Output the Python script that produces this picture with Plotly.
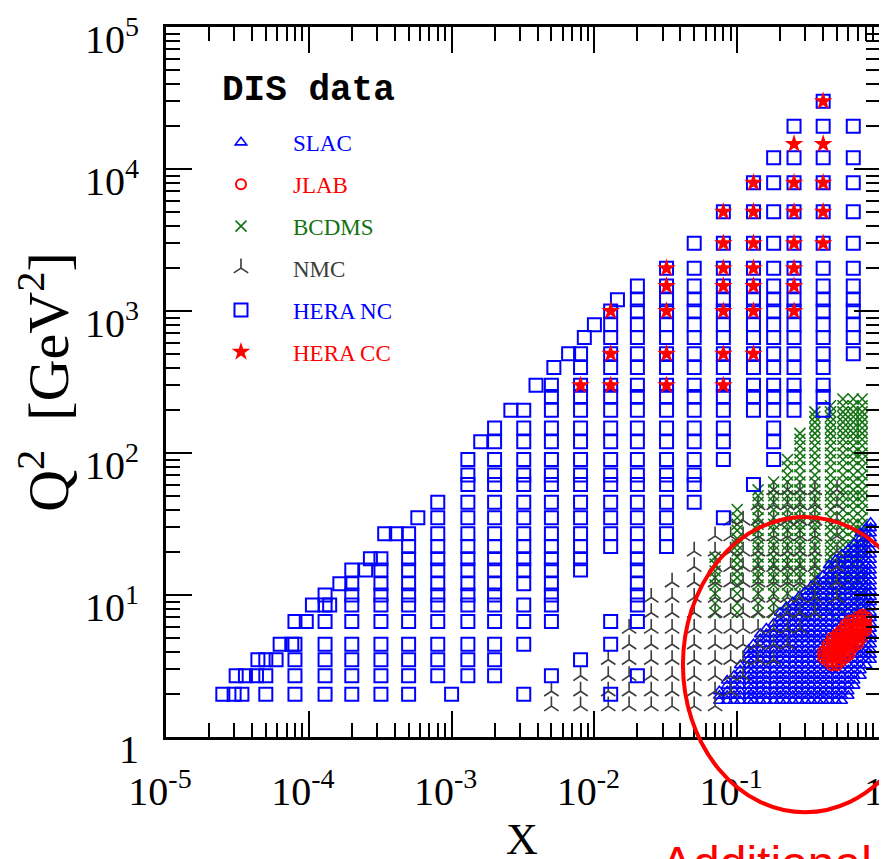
import plotly.graph_objects as go

# ---------------- data ----------------
# HERA neutral-current Q2 bins
Q2_BINS = [2, 2.7, 3.5, 4.5, 6.5, 8.5, 10, 12, 15, 18, 22, 27, 35, 45, 60, 70, 90,
           120, 150, 200, 250, 300, 400, 500, 650, 800, 1000, 1200, 1500, 2000,
           3000, 5000, 8000, 12000, 20000, 30000]


def span(lo, hi, skip=()):
    return [q for q in Q2_BINS if lo <= q <= hi and q not in skip]


hera_nc_x = [5e-5, 8e-5, 1.3e-4, 2e-4, 3.2e-4, 5e-4, 8e-4, 1e-3, 1.3e-3, 2e-3,
             3.2e-3, 5e-3, 8e-3, 1.3e-2, 2e-2, 3.2e-2, 5e-2, 8e-2, 0.13, 0.18,
             0.25, 0.40, 0.65]
hera_nc_q2 = [
    [2, 2.7, 3.5],
    span(2, 6.5),
    span(2, 10),
    span(2, 15),
    span(2, 18),
    span(2, 27),
    span(2.7, 45),
    [2],
    span(2.7, 90),
    span(2.7, 150),
    [2] + span(4.5, 200, skip=(10,)),
    [2.7] + span(6.5, 300),
    [3.5] + span(15, 500),
    [2, 4.5, 6.5] + span(22, 1000),
    [2.7] + span(6.5, 1500),
    span(22, 2000),
    span(45, 3000),
    [35] + span(90, 5000),
    [60] + span(200, 8000),
    span(90, 12000),
    span(200, 20000),
    span(200, 30000),
    span(500, 20000),
]
# points along the kinematic edge
hera_nc_edge_x = [2.5e-5, 3.0e-5, 3.4e-5, 3.1e-5, 3.6e-5, 4.3e-5, 4.4e-5, 5.9e-5,
                  6.3e-5, 7.6e-5, 9.6e-5, 1.06e-4, 1.4e-4, 1.65e-4, 2.5e-4, 2.7e-4,
                  3.4e-4, 4.1e-4, 5.8e-4, 1.6e-3, 2.6e-3, 3.9e-3, 5.2e-3, 6.6e-3,
                  8.5e-3, 1.0e-2, 1.45e-2]
hera_nc_edge_q2 = [2, 2, 2, 2.7, 2.7, 2.7, 3.5, 3.5, 4.5, 4.5, 6.5, 8.5, 8.5, 12,
                   15, 18, 27, 27, 35, 120, 200, 300, 400, 500, 650, 800, 1200]

hera_cc_x = [8e-3, 1.3e-2, 3.2e-2, 8e-2, 0.13, 0.25, 0.40]
hera_cc_q2 = [
    [300],
    [300, 500, 1000],
    [300, 500, 1000, 1500, 2000],
    [300, 500, 1000, 1500, 2000, 3000, 5000],
    [500, 1000, 1500, 2000, 3000, 5000, 8000],
    [1000, 1500, 2000, 3000, 5000, 8000, 15000],
    [3000, 5000, 8000, 15000, 30000],
]

# BCDMS
bcdms_q2_levels = [7.5, 8.75, 10.25, 11.75, 13.25, 14.75, 16.5, 18.5, 20.5, 22.5,
                   25, 28.5, 31.5, 35, 40, 45, 50, 55, 62.5, 70, 80, 90, 100,
                   112.5, 125, 137.5, 150, 165, 180, 195, 215, 240]
bcdms_x = [0.07, 0.10, 0.14, 0.18, 0.225, 0.275, 0.35, 0.45, 0.55, 0.65, 0.75]
bcdms_q2_max = [20, 40, 58, 68, 90, 140, 200, 230, 240, 240, 240]

# NMC
nmc_q2_levels = [1.65, 2.1, 2.7, 3.5, 4.5, 5.8, 7.5, 9.6, 12.3, 15.8, 20.3, 26,
                 33.5, 43, 55]
nmc_x = [0.005, 0.008, 0.0125, 0.0175, 0.025, 0.035, 0.05, 0.07, 0.09, 0.11,
         0.14, 0.18, 0.225, 0.275, 0.35, 0.5]
nmc_q2_min = [1.6, 1.6, 1.6, 1.6, 1.6, 1.6, 1.6, 1.6, 2.0, 2.5, 3.0, 3.5, 4.5,
              5.0, 6.0, 8.0]
nmc_q2_max = [2.4, 2.7, 4.1, 6.0, 11, 14.5, 21, 27.5, 35, 42, 50, 60, 65, 65, 65, 65]

# SLAC
slac_q2_levels = [1.8, 1.95, 2.1, 2.3, 2.5, 2.7, 2.95, 3.2, 3.5, 3.8, 4.1, 4.5,
                  4.9, 5.3, 5.8, 6.3, 6.9, 7.5, 8.2, 8.9, 9.7, 10.6, 11.5, 12.5,
                  13.7, 14.9, 16.2, 17.7, 19.3, 21, 22.9, 25, 27.2, 29.6, 32.3, 35]
slac_x = [0.075, 0.085, 0.095, 0.105, 0.12, 0.13, 0.145, 0.16, 0.18, 0.2, 0.22,
          0.245, 0.27, 0.3, 0.33, 0.365, 0.4, 0.44, 0.49, 0.54, 0.6, 0.66, 0.73,
          0.8, 0.86]
slac_q2_min = [1.8] * 20 + [1.9, 2.2, 2.6, 3.0, 3.5]
slac_q2_max = [2.15, 2.5, 2.9, 3.4, 4.2, 4.8, 5.6, 6.1, 6.8, 7.6, 8.5, 9.2, 9.7,
               10.9, 12, 13.2, 14.8, 16.5, 18.5, 20.5, 21.5, 24, 28, 32, 34]

# JLAB
jlab_q2_levels = [3.2, 3.4, 3.6, 3.8, 4.0, 4.25, 4.5, 4.75, 5.0, 5.3, 5.6, 5.9,
                  6.2, 6.6, 7.0, 7.3]
jlab_x = [0.4, 0.43, 0.46, 0.5, 0.53, 0.57, 0.61, 0.65, 0.7, 0.75, 0.8]
jlab_q2_min = [3.5, 3.3, 3.2, 3.2, 3.4, 3.6, 3.8, 4.1, 4.5, 4.9, 5.6]
jlab_q2_max = [4.0, 4.6, 5.1, 5.4, 5.8, 6.2, 6.6, 6.9, 7.2, 7.3, 7.2]

x_tick_vals = [1e-5, 1e-4, 1e-3, 1e-2, 1e-1, 1]
x_tick_text = ["10<sup>-5</sup>", "10<sup>-4</sup>", "10<sup>-3</sup>",
               "10<sup>-2</sup>", "10<sup>-1</sup>", "1"]
y_tick_vals = [1, 10, 100, 1e3, 1e4, 1e5]
y_tick_text = ["1", "10<sup>1</sup>", "10<sup>2</sup>", "10<sup>3</sup>",
               "10<sup>4</sup>", "10<sup>5</sup>"]
minor_vals = [k * 10.0 ** e for e in range(-5, 5) for k in range(2, 10)]


# ---------------- build point lists ----------------
def columns(xs, q2s):
    px, py = [], []
    for x, ql in zip(xs, q2s):
        for q in ql:
            px.append(x)
            py.append(q)
    return px, py


def banded(xs, levels, lo, hi):
    return columns(xs, [[q for q in levels if a <= q <= b] for a, b in zip(lo, hi)])


nc_x, nc_y = columns(hera_nc_x, hera_nc_q2)
nc_x += hera_nc_edge_x
nc_y += hera_nc_edge_q2
cc_x, cc_y = columns(hera_cc_x, hera_cc_q2)
bc_x, bc_y = banded(bcdms_x, bcdms_q2_levels, [7.5] * len(bcdms_x), bcdms_q2_max)
nm_x, nm_y = banded(nmc_x, nmc_q2_levels, nmc_q2_min, nmc_q2_max)
sl_x, sl_y = banded(slac_x, slac_q2_levels, slac_q2_min, slac_q2_max)
jl_x, jl_y = banded(jlab_x, jlab_q2_levels, jlab_q2_min, jlab_q2_max)

BLUE = "#0000ff"
RED = "#ff0000"
GREEN = "#137313"
GRAY = "#3c3c3c"

fig = go.Figure()


def add(name, xs, ys, symbol, color, size, lw, rank):
    fig.add_trace(go.Scatter(
        x=xs, y=ys, mode="markers", legendrank=rank, legendgroup=name,
        name='<span style="color:%s">%s</span>' % (color, name),
        marker=dict(symbol=symbol, size=size, color=color,
                    line=dict(color=color, width=lw)),
        hoverinfo="skip"))


add("BCDMS", bc_x, bc_y, "x-thin-open", GREEN, 11, 1.6, 3)
add("SLAC", sl_x, sl_y, "triangle-up-open", BLUE, 10, 1.6, 1)
add("JLAB", jl_x, jl_y, "circle-open", RED, 10, 2, 2)
add("NMC", nm_x, nm_y, "y-up-open", GRAY, 12, 1.6, 4)
add("HERA NC", nc_x, nc_y, "square-open", BLUE, 13, 2, 5)
add("HERA CC", cc_x, cc_y, "star", RED, 14, 0, 6)

axis_common = dict(
    type="log", showgrid=False, zeroline=False, automargin=False,
    showline=True, linecolor="black", linewidth=3, mirror="ticks",
    ticks="inside", ticklen=26, tickwidth=2, tickcolor="black",
    tickmode="array", ticklabeloverflow="allow",
    minor=dict(ticks="inside", ticklen=14, tickwidth=2, tickcolor="black",
               tickmode="array", tickvals=minor_vals),
    tickfont=dict(family="Liberation Serif", size=40, color="black"),
)

# the page adds an 8 px body margin, so the figure is 8 px smaller
fig.update_layout(
    width=879, height=851,
    margin=dict(l=158, r=7, t=19, b=122, autoexpand=False),
    paper_bgcolor="white", plot_bgcolor="white",
    xaxis=dict(axis_common, range=[-5, 0], tickvals=x_tick_vals,
               ticktext=x_tick_text, ticklabelstandoff=17, ticklabelshift=-6),
    yaxis=dict(axis_common, range=[0, 5], tickvals=y_tick_vals,
               ticktext=y_tick_text, ticklabelstandoff=16, ticklabelshift=12,
               title=dict(text="Q<sup>2</sup>  [GeV<sup>2</sup>]", standoff=12,
                          font=dict(family="Liberation Serif", size=58,
                                    color="black"))),
    legend=dict(x=0.0322, y=0.8677, xanchor="left", yanchor="top",
                bgcolor="rgba(0,0,0,0)", borderwidth=0,
                itemwidth=94, tracegroupgap=9,
                font=dict(family="Liberation Serif", size=23)),
    showlegend=True,
    annotations=[
        dict(text="X", xref="paper", yref="paper",
             x=0.4986, y=-0.145, xanchor="center", yanchor="middle",
             showarrow=False,
             font=dict(family="Liberation Serif", size=44, color="black")),
        dict(text="<b>DIS data</b>", xref="paper", yref="paper",
             x=0.0752, y=0.91, xanchor="left", yanchor="middle",
             showarrow=False,
             font=dict(family="Liberation Mono", size=36, color="black")),
        dict(text="Additional", xref="paper", yref="paper",
             x=0.692, y=-0.139, xanchor="left", yanchor="top",
             showarrow=False, borderpad=0,
             font=dict(family="Liberation Sans", size=48, color=RED)),
    ],
    shapes=[
        dict(type="circle", xref="paper", yref="paper",
             x0=0.724, x1=1.066, y0=-0.106, y1=0.31,
             line=dict(color=RED, width=4)),
    ],
)

fig.write_html("out.html")
